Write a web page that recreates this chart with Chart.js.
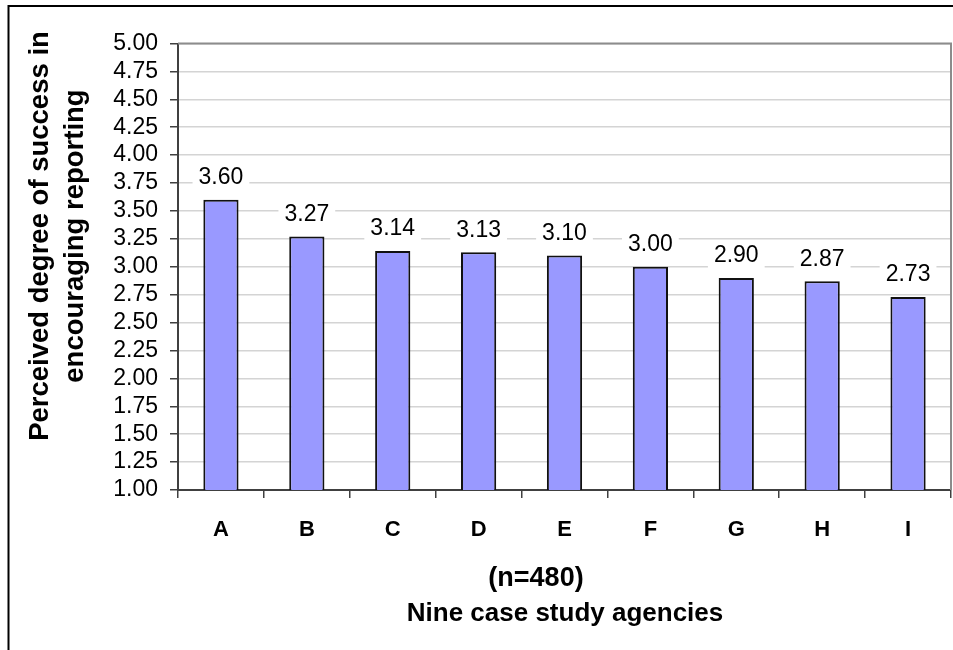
<!DOCTYPE html>
<html>
<head>
<meta charset="utf-8">
<script src="https://cdn.jsdelivr.net/npm/chart.js@4"></script>
<style>
  html, body { margin: 0; padding: 0; background: #ffffff; }
  #wrap { position: relative; width: 953px; height: 650px; }
</style>
</head>
<body>
<div id="wrap"><canvas id="c" width="953" height="650"></canvas></div>
<script>
// Agencies and their mean perceived success scores
const agencies = ['A', 'B', 'C', 'D', 'E', 'F', 'G', 'H', 'I'];
const successScores = [3.60, 3.27, 3.14, 3.13, 3.10, 3.00, 2.90, 2.87, 2.73];
const yAxisTitleLines = ['Perceived degree of success in', 'encouraging reporting'];
const xAxisNote = '(n=480)';
const xAxisTitle = 'Nine case study agencies';

const FONT = '"Liberation Sans", Arial, Helvetica, sans-serif';

// Outer frame, value labels and axis titles
const decorations = {
  id: 'decorations',
  beforeDraw(chart) {
    const ctx = chart.ctx;
    ctx.save();
    ctx.fillStyle = '#ffffff';
    ctx.fillRect(0, 0, chart.width, chart.height);
    ctx.strokeStyle = '#000000';
    ctx.lineWidth = 2;
    ctx.beginPath();
    ctx.moveTo(8.5, chart.height + 2);
    ctx.lineTo(8.5, 6);
    ctx.lineTo(chart.width + 2, 6);
    ctx.stroke();
    ctx.restore();
  },
  afterDatasetsDraw(chart) {
    const ctx = chart.ctx;
    const area = chart.chartArea;
    ctx.save();
    // plot-area border on top and right
    ctx.strokeStyle = '#8c8c8c';
    ctx.lineWidth = 2;
    ctx.beginPath();
    ctx.moveTo(area.left, area.top);
    ctx.lineTo(area.right, area.top);
    ctx.lineTo(area.right, area.bottom);
    ctx.stroke();

    // value labels on white boxes above each bar
    ctx.font = '23px ' + FONT;
    ctx.textAlign = 'center';
    ctx.textBaseline = 'middle';
    const meta = chart.getDatasetMeta(0);
    meta.data.forEach((bar, i) => {
      const txt = successScores[i].toFixed(2);
      const w = ctx.measureText(txt).width + 12;
      const cy = bar.y - 23;
      ctx.fillStyle = '#ffffff';
      ctx.fillRect(bar.x - w / 2, cy - 14, w, 28);
      ctx.fillStyle = '#000000';
      ctx.fillText(txt, bar.x, cy + 1);
    });

    // y axis title (two rotated lines)
    ctx.font = 'bold 27.5px ' + FONT;
    ctx.fillStyle = '#000000';
    ctx.save();
    ctx.translate(40, 236);
    ctx.rotate(-Math.PI / 2);
    ctx.fillText(yAxisTitleLines[0], 0, 0);
    ctx.restore();
    ctx.save();
    ctx.translate(75, 236);
    ctx.rotate(-Math.PI / 2);
    ctx.fillText(yAxisTitleLines[1], 0, 0);
    ctx.restore();

    // x axis titles
    ctx.font = 'bold 27px ' + FONT;
    ctx.fillText(xAxisNote, 536, 579);
    ctx.font = 'bold 26px ' + FONT;
    ctx.fillText(xAxisTitle, 565, 614);
    ctx.restore();
  }
};

new Chart(document.getElementById('c'), {
  type: 'bar',
  data: {
    labels: agencies,
    datasets: [{
      data: successScores,
      backgroundColor: '#9999ff',
      borderColor: '#111111',
      borderWidth: 2,
      borderSkipped: false,
      barPercentage: 0.41,
      categoryPercentage: 1.0
    }]
  },
  options: {
    responsive: false,
    animation: false,
    events: [],
    layout: { padding: { top: 43.5, right: 2, left: 0, bottom: 0 } },
    plugins: {
      legend: { display: false },
      tooltip: { enabled: false },
      title: { display: false }
    },
    scales: {
      x: {
        offset: true,
        grid: {
          offset: true,
          drawOnChartArea: false,
          drawTicks: true,
          tickLength: 8,
          color: '#404040',
          lineWidth: 1.5
        },
        border: { display: true, color: '#404040', width: 2 },
        ticks: {
          color: '#000000',
          font: { family: FONT, size: 22, weight: 'bold' },
          padding: 19,
          maxRotation: 0
        },
        afterFit(scale) { scale.height = 160; }
      },
      y: {
        min: 1,
        max: 5,
        grid: {
          color: '#d4d4d4',
          lineWidth: 1.5,
          tickColor: '#404040',
          tickLength: 8,
          drawTicks: true
        },
        border: { display: true, color: '#404040', width: 2 },
        ticks: {
          stepSize: 0.25,
          autoSkip: false,
          color: '#000000',
          font: { family: FONT, size: 23 },
          padding: 12,
          callback: (v) => Number(v).toFixed(2)
        },
        afterFit(scale) { scale.width = 178; }
      }
    }
  },
  plugins: [decorations]
});
</script>
</body>
</html>
